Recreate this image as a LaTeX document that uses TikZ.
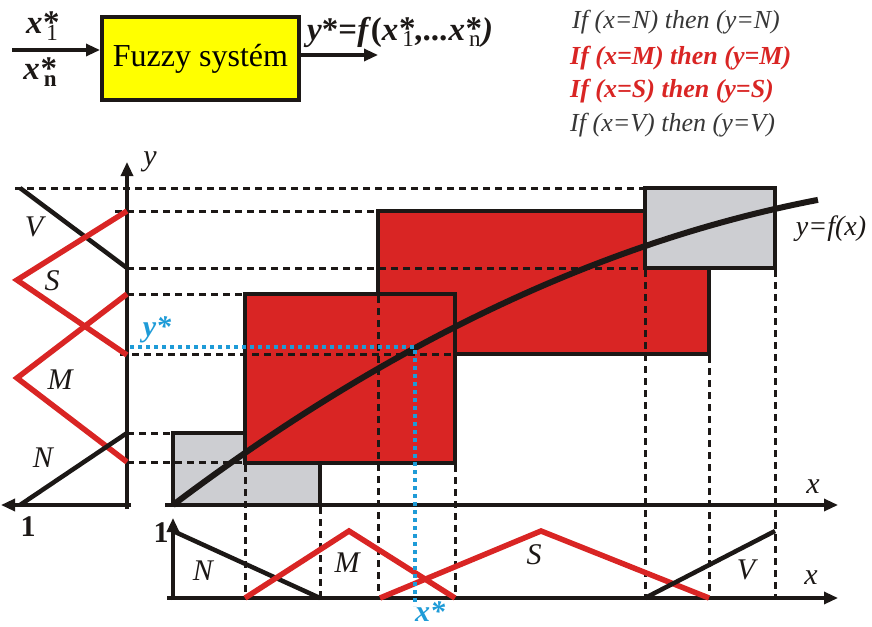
\documentclass[tikz,border=0pt]{standalone}
\usepackage{fontspec}
\setmainfont{Liberation Serif}
\usetikzlibrary{arrows.meta}
\definecolor{fred}{RGB}{217,37,36}
\definecolor{fgray}{RGB}{205,206,210}
\definecolor{fblue}{RGB}{30,155,215}
\definecolor{fyellow}{RGB}{255,255,0}
\definecolor{fink}{RGB}{28,24,22}
\definecolor{ftext}{RGB}{55,55,55}
\newcommand\fsz[1]{\fontsize{#1}{#1}\selectfont}
\newcommand\xst[1]{\textbf{\textit{x}}\hspace{0.02em}\rlap{\raisebox{0.02em}{\textbf{*}}}\raisebox{-0.2em}{\hspace{0.1em}\fsz{23}#1}\hspace{0.05em}}
\begin{document}
\begin{tikzpicture}[x=1pt,y=-1pt,
  tip/.style={-{Triangle[length=14pt,width=12pt]}},
  axisline/.style={line width=3.2pt, draw=fink},
  redbox/.style={line width=4pt, draw=fink, fill=fred},
  graybox/.style={line width=4pt, draw=fink, fill=fgray},
  guide/.style={line width=3pt, draw=fink, dash pattern=on 7pt off 5pt},
  bluedot/.style={line width=4pt, draw=fblue, dash pattern=on 4pt off 4pt},
  redmf/.style={line width=5.5pt, draw=fred},
  blackmf/.style={line width=4.5pt, draw=fink},
  lbl/.style={font=\fsz{30}\itshape, text=fink, inner sep=0pt},
  one/.style={font=\fsz{30}\bfseries, text=fink, inner sep=0pt},
  rule/.style={font=\fsz{26}\itshape, text=ftext, anchor=west, inner sep=0pt},
  rulered/.style={font=\fsz{26}\bfseries\itshape, text=fred, anchor=west, inner sep=0pt},
  bluelbl/.style={font=\fsz{30}\bfseries\itshape, text=fblue, inner sep=0pt}]
\useasboundingbox (0,0) rectangle (872,626);

% ---------- top block ----------
\node[draw=fink, line width=4pt, fill=fyellow, minimum width=197pt, minimum height=83pt,
      anchor=north west, font=\fsz{32}, inner sep=0pt] (fs) at (100,15) {Fuzzy systém};
\coordinate (inA) at (12,50);
\coordinate (outB) at (378,55);
\draw[axisline, tip] (inA) -- (inA -| fs.west);
\draw[axisline, tip] (outB -| fs.east) -- (outB);
\node[inner sep=0pt, font=\fsz{33}, text=fink] (x1) at (42,26) {\xst{1}};
\node[inner sep=0pt, font=\fsz{33}, text=fink] (xn) at (40,72) {\xst{\textbf{n}}};
\node[inner sep=0pt, font=\fsz{33}, text=fink, anchor=west] (yf) at (307,32)
  {\textbf{\textit{y}*=\textit{f}(}\xst{1}\textbf{\textit{,...}}\xst{n}\textbf{\textit{)}}};

% ---------- rules ----------
\node[rule] (r1) at (572,22) {If (x=N) then (y=N)};
\node[rulered] (r2) at (570,58) {If (x=M) then (y=M)};
\node[rulered] (r3) at (570,91) {If (x=S) then (y=S)};
\node[rule] (r4) at (570,125) {If (x=V) then (y=V)};

% ---------- rule rectangles ----------
\draw[redbox] (378,211) rectangle (709,354);
\draw[graybox] (645,188) rectangle (775,268);
\draw[graybox] (173,433) rectangle (320,505);
\draw[redbox] (245,294) rectangle (455,463);

% ---------- guide lines ----------
\draw[guide] (15,188) -- (645,188);
\draw[guide] (115,211) -- (378,211);
\draw[guide] (127,268) -- (645,268);
\draw[guide] (127,294) -- (245,294);
\draw[guide] (120,354) -- (455,354);
\draw[guide] (127,433) -- (173,433);
\draw[guide] (127,462) -- (245,462);
\draw[guide] (245,465) -- (245,598);
\draw[guide] (320,507) -- (320,598);
\draw[guide] (378,296) -- (378,598);
\draw[guide] (455,465) -- (455,598);
\draw[guide] (645,270) -- (645,598);
\draw[guide] (709,356) -- (709,598);
\draw[guide] (775,270) -- (775,598);

% ---------- axes ----------
\coordinate (yaxB) at (127,509);
\coordinate (yaxT) at (127,162);
\coordinate (laxR) at (131,505);
\coordinate (laxL) at (1,505);
\coordinate (xaxL) at (165,505);
\coordinate (xaxR) at (838,505);
\coordinate (baxB) at (173,600);
\coordinate (baxT) at (173,518);
\coordinate (bxL) at (167,598);
\coordinate (bxR) at (838,598);
\draw[axisline, tip] (yaxB) -- (yaxT);
\draw[axisline, tip] (laxR) -- (laxL);
\draw[axisline, tip] (xaxL) -- (xaxR);
\draw[axisline, tip] (baxB) -- (baxT);
\draw[axisline, tip] (bxL) -- (bxR);

% ---------- y membership functions ----------
\draw[blackmf] (20,188) -- (127,268);
\draw[redmf] (127,211) -- (17,280) -- (127,355);
\draw[redmf] (127,294) -- (17,378) -- (127,462);
\draw[blackmf] (20,505) -- (127,433);

% ---------- x membership functions ----------
\draw[blackmf] (173,531) -- (320,598);
\draw[redmf] (245,598) -- (349,531) -- (455,598);
\draw[redmf] (380,598) -- (541,531) -- (709,598);
\draw[blackmf] (645,598) -- (775,531);

% ---------- curve ----------
\draw[line width=6pt, draw=fink] plot[domain=0:6.45, samples=60]
  ({173+100*\x}, {505-75.43*\x+4.36*\x*\x});

% ---------- y*, x* ----------
\draw[bluedot] (130,347) -- (415,347) -- (415,606);

% ---------- labels ----------
\node[lbl] (lV) at (34,227) {V};
\node[lbl] (lS) at (52,281) {S};
\node[lbl] (lM) at (60,380) {M};
\node[lbl] (lN) at (43,458) {N};
\node[lbl] (ly) at (150,162) {y};
\node[lbl] (lx) at (813,487) {x};
\node[lbl] (lx2) at (811,578) {x};
\node[lbl] (bN) at (203,571) {N};
\node[lbl] (bM) at (347,563) {M};
\node[lbl] (bS) at (534,555) {S};
\node[lbl] (bV) at (746,570) {V};
\node[one] (one1) at (28,527) {1};
\node[one] (one2) at (161,533) {1};
\node[bluelbl] (ystar) at (157,330) {y*};
\node[bluelbl, anchor=base] (xstar) at (430,621) {x*};
\node[font=\fsz{28}\itshape, text=fink, inner sep=0pt] (yfx) at (831,229) {y=f(x)};
\end{tikzpicture}
\end{document}
